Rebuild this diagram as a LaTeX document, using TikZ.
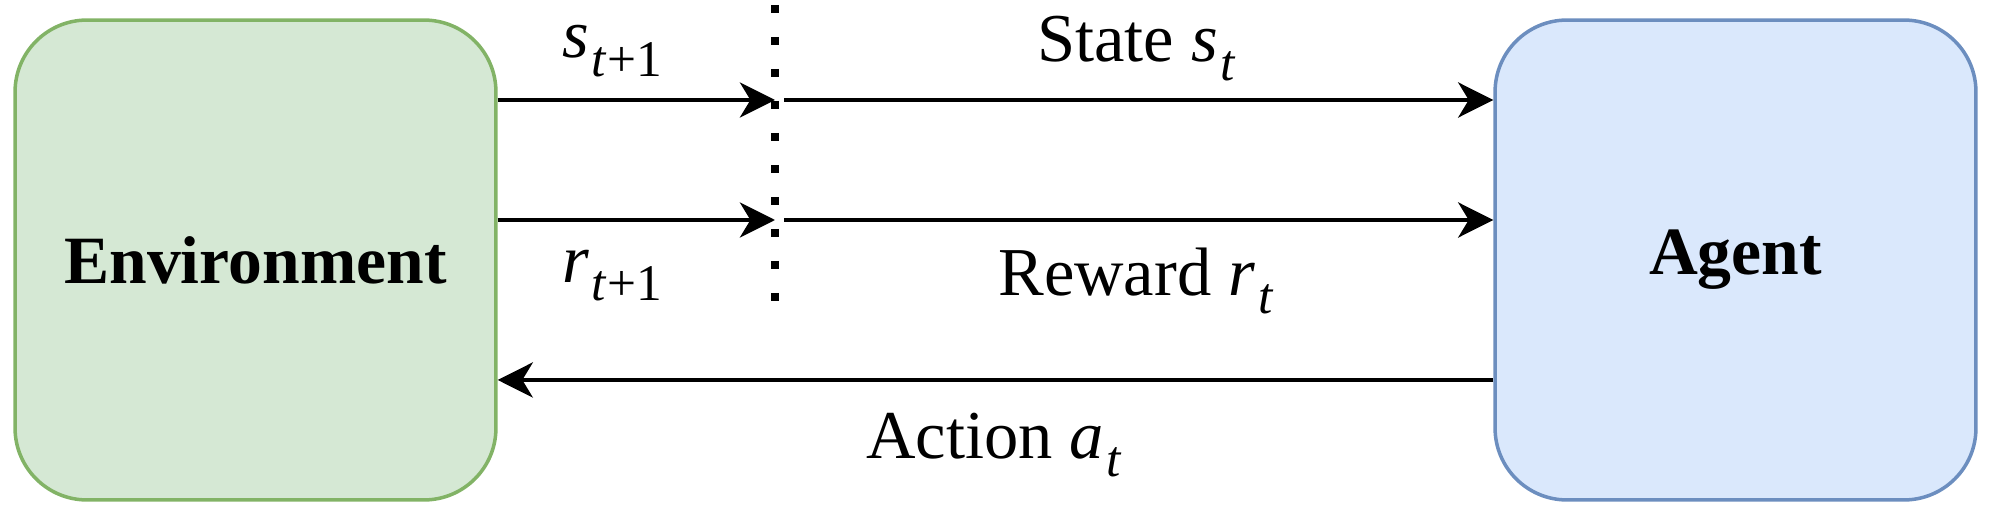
\documentclass[tikz,border=0pt]{standalone}
\usepackage{fontspec}
\setmainfont{Liberation Serif}
\usepackage{graphicx}
\usetikzlibrary{positioning,arrows.meta}

\definecolor{envfill}{HTML}{D5E8D4}
\definecolor{envline}{HTML}{82B366}
\definecolor{agfill}{HTML}{DAE8FC}
\definecolor{agline}{HTML}{6C8EBF}

\newcommand{\subs}[1]{\kern0.04em\raisebox{-0.27em}{\scalebox{0.75}{#1}}}

\tikzset{
	block/.style={draw,rounded corners=1.44cm,line width=2pt,minimum width=9.62cm,minimum height=9.6cm,font=\fontsize{38.5}{46}\selectfont\bfseries},
	flow/.style={line width=2.2pt,-{Stealth[length=20pt,width=20pt,inset=6pt]}},
	lbl/.style={anchor=base west,inner sep=0pt,font=\fontsize{39}{46}\selectfont}
}

\begin{document}
\begin{tikzpicture}[x=0.02cm,y=-0.02cm]
	\useasboundingbox (0,0) rectangle (2000,520);
	
	\node[block,fill=envfill,draw=envline] (Env) at (255.5,260) {Environment};
	\node[block,fill=agfill,draw=agline] (Agent) at (1735.5,260) {Agent};
	
	% time step split
	\coordinate (Dtop) at (775,5);
	\coordinate (Dbot) at (775,301);
	\draw[line width=0.16cm,dash pattern=on 0.16cm off 0.48cm] (Dtop) -- (Dbot);
	\coordinate (Sin) at (775,100);
	\coordinate (Rin) at (775,220);
	
	\draw[flow] (Env.east |- Sin) -- (Sin);
	\draw[flow] (Env.east |- Rin) -- (Rin);
	\draw[flow] ([xshift=0.18cm]Sin) -- (Agent.west |- Sin);
	\draw[flow] ([xshift=0.18cm]Rin) -- (Agent.west |- Rin);
	\draw[flow] ([yshift=-2.4cm]Agent.west) -- ([yshift=-2.4cm]Env.east);
	
	\node[lbl] (Snext) at (562,58) {\textit{s}\subs{\textit{t}+1}};
	\node[lbl] (Rnext) at (562,282) {\textit{r}\subs{\textit{t}+1}};
	\node[lbl] (State) at (1037,62) {State \textit{s}\subs{\textit{t}}};
	\node[lbl] (Reward) at (998,295) {Reward \textit{r}\subs{\textit{t}}};
	\node[lbl] (Action) at (866,458) {Action \textit{a}\subs{\textit{t}}};
\end{tikzpicture}
\end{document}
